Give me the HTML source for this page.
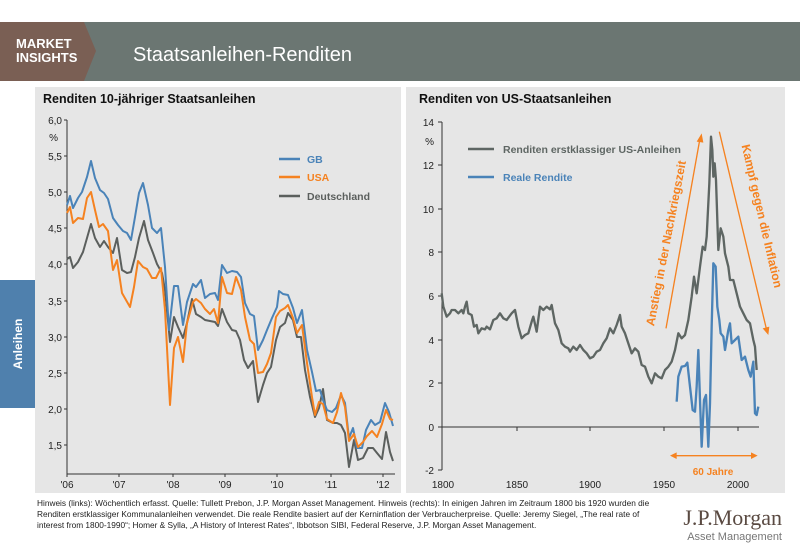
<!DOCTYPE html>
<html><head><meta charset="utf-8"><style>
body{margin:0;width:800px;height:554px;background:#fff;font-family:"Liberation Sans",sans-serif;overflow:hidden;position:relative}
</style></head><body>
<svg width="800" height="554" xmlns="http://www.w3.org/2000/svg" style="position:absolute;left:0;top:0" font-family="Liberation Sans, sans-serif">
<rect x="0" y="22" width="800" height="59" fill="#6b7672"/>
<polygon points="0,22 84,22 96,51 84,81 0,81" fill="#7a5f54"/>
<text x="16" y="48" fill="#fff" font-size="13" font-weight="bold">MARKET</text>
<text x="16" y="62" fill="#fff" font-size="13" font-weight="bold">INSIGHTS</text>
<text x="133" y="61" fill="#fff" font-size="20">Staatsanleihen-Renditen</text>
<rect x="35" y="87" width="366" height="406" fill="#e6e6e6"/>
<rect x="406" y="87" width="379" height="406" fill="#e6e6e6"/>
<rect x="0" y="280" width="35" height="128" fill="#4f80ad"/>
<text transform="translate(22,344) rotate(-90)" fill="#fff" font-size="12" font-weight="bold" text-anchor="middle">Anleihen</text>
<text x="43" y="103" font-size="12.5" font-weight="bold" fill="#111">Renditen 10-jähriger Staatsanleihen</text>
<text x="419" y="103" font-size="12.5" font-weight="bold" fill="#111">Renditen von US-Staatsanleihen</text>
<!-- left axes -->
<g stroke="#333" stroke-width="1" fill="none">
<line x1="67" y1="120" x2="67" y2="474"/><line x1="67" y1="474" x2="395" y2="474"/>
<line x1="64" y1="120" x2="67" y2="120"/><line x1="64" y1="156" x2="67" y2="156"/><line x1="64" y1="192" x2="67" y2="192"/><line x1="64" y1="228" x2="67" y2="228"/><line x1="64" y1="264" x2="67" y2="264"/><line x1="64" y1="301" x2="67" y2="301"/><line x1="64" y1="337" x2="67" y2="337"/><line x1="64" y1="373" x2="67" y2="373"/><line x1="64" y1="409" x2="67" y2="409"/><line x1="64" y1="445" x2="67" y2="445"/>
<line x1="67" y1="474" x2="67" y2="477"/><line x1="119" y1="474" x2="119" y2="477"/><line x1="173" y1="474" x2="173" y2="477"/><line x1="225" y1="474" x2="225" y2="477"/><line x1="277" y1="474" x2="277" y2="477"/><line x1="331" y1="474" x2="331" y2="477"/><line x1="383" y1="474" x2="383" y2="477"/>
</g>
<g font-size="10" fill="#222" text-anchor="end">
<text x="62" y="124">6,0</text><text x="62" y="160">5,5</text><text x="62" y="196">5,0</text><text x="62" y="232">4,5</text><text x="62" y="268">4,0</text><text x="62" y="305">3,5</text><text x="62" y="341">3,0</text><text x="62" y="377">2,5</text><text x="62" y="413">2,0</text><text x="62" y="449">1,5</text>
<text x="58" y="141">%</text>
</g>
<g font-size="10" fill="#222" text-anchor="middle">
<text x="67" y="488">'06</text><text x="119" y="488">'07</text><text x="173" y="488">'08</text><text x="225" y="488">'09</text><text x="277" y="488">'10</text><text x="331" y="488">'11</text><text x="383" y="488">'12</text>
</g>
<g fill="none" stroke-width="2" stroke-linejoin="round">
<polyline stroke="#5b5f5d" points="67,259 70,257 73,268 78,262 83,252 87,238 91,224 95,238 100,247 104,241 108,247 113,253 117,238 122,270 127,273 131,272 135,257 139,238 144,221 148,240 153,253 157,264 162,273 165,290 170,342 174,317 178,327 183,338 187,323 192,299 196,314 201,317 205,320 210,321 215,322 218,326 222,309 227,322 232,330 236,331 240,340 244,360 248,368 253,361 258,402 263,385 267,373 271,367 276,340 280,327 285,323 288,313 293,320 297,337 301,337 305,370 310,397 315,417 319,408 323,389 327,420 333,423 337,423 341,425 345,433 349,467 354,440 358,460 363,458 368,448 373,448 377,453 382,459 386,432 390,452 393,461"/>
<polyline stroke="#4a83b8" points="67,205 70,196 73,208 78,198 82,192 87,177 91,161 95,178 100,190 104,193 108,199 113,218 118,225 123,231 127,233 131,240 135,217 139,193 143,183 148,205 152,228 157,233 161,228 165,267 169,330 174,286 178,286 183,325 187,302 193,284 196,287 201,280 205,298 210,294 215,293 218,300 222,265 227,273 232,271 237,272 241,277 245,303 250,314 254,316 258,350 263,340 267,330 272,318 277,307 279,291 283,294 288,295 293,308 297,323 302,310 307,350 312,372 316,391 320,390 323,400 327,410 332,412 336,408 341,395 345,403 349,438 353,428 357,448 362,448 366,430 371,420 375,425 380,422 385,403 389,412 393,426"/>
<polyline stroke="#f58220" points="67,213 70,207 73,223 78,218 83,219 87,198 91,192 95,210 99,227 103,224 108,231 113,270 117,260 122,293 126,300 130,307 134,287 138,261 143,267 147,269 152,278 156,278 161,268 165,310 170,405 174,348 178,337 183,362 187,323 193,302 196,299 201,303 205,309 210,314 214,309 218,323 222,277 227,293 232,294 236,277 241,290 245,317 250,340 254,344 258,373 263,372 267,364 271,353 276,317 280,311 285,308 288,305 293,318 297,333 302,325 307,363 312,397 315,415 319,402 323,404 327,419 333,423 337,412 341,393 345,407 349,441 354,434 358,447 363,442 367,436 372,431 377,437 382,424 386,410 390,419 393,420"/>
</g>
<g stroke-width="2.5">
<line x1="279" y1="159" x2="300" y2="159" stroke="#4a83b8"/>
<line x1="279" y1="177" x2="300" y2="177" stroke="#f58220"/>
<line x1="279" y1="196" x2="300" y2="196" stroke="#5b5f5d"/>
</g>
<g font-size="10.5" font-weight="bold">
<text x="307" y="163" fill="#4a83b8">GB</text>
<text x="307" y="181" fill="#f58220">USA</text>
<text x="307" y="200" fill="#5b5f5d">Deutschland</text>
</g>
<!-- right axes -->
<g stroke="#333" stroke-width="1" fill="none">
<line x1="442" y1="122" x2="442" y2="470"/><line x1="442" y1="427" x2="759" y2="427"/>
<line x1="438" y1="122" x2="442" y2="122"/><line x1="438" y1="165" x2="442" y2="165"/><line x1="438" y1="209" x2="442" y2="209"/><line x1="438" y1="252" x2="442" y2="252"/><line x1="438" y1="296" x2="442" y2="296"/><line x1="438" y1="340" x2="442" y2="340"/><line x1="438" y1="383" x2="442" y2="383"/><line x1="438" y1="427" x2="442" y2="427"/><line x1="438" y1="470" x2="442" y2="470"/>
<line x1="517" y1="427" x2="517" y2="431"/><line x1="590" y1="427" x2="590" y2="431"/><line x1="664" y1="427" x2="664" y2="431"/><line x1="738" y1="427" x2="738" y2="431"/>
</g>
<g font-size="10" fill="#222" text-anchor="end">
<text x="434" y="126">14</text><text x="434" y="169">12</text><text x="434" y="213">10</text><text x="434" y="256">8</text><text x="434" y="300">6</text><text x="434" y="344">4</text><text x="434" y="387">2</text><text x="434" y="431">0</text><text x="434" y="474">-2</text>
<text x="434" y="145">%</text>
</g>
<g font-size="10" fill="#222" text-anchor="middle">
<text x="443" y="488">1800</text><text x="517" y="488">1850</text><text x="590" y="488">1900</text><text x="664" y="488">1950</text><text x="738" y="488">2000</text>
</g>
<g transform="translate(400,80) scale(0.33333)" fill="none" stroke-width="7" stroke-linejoin="round">
<polyline stroke="#5e6663" points="125,640 130,680 140,710 150,700 155,690 165,690 175,700 185,690 190,700 195,680 200,665 205,700 215,705 222,740 230,735 235,760 245,745 255,748 260,740 270,748 280,720 290,715 300,700 310,715 320,720 335,700 345,690 355,740 365,775 375,765 385,760 395,725 400,710 410,755 420,680 430,690 440,680 450,688 455,675 465,730 475,750 485,790 495,800 505,805 510,815 520,800 530,810 540,795 550,810 560,820 570,835 580,830 590,815 600,810 610,790 620,775 630,745 640,760 650,735 660,705 665,740 675,760 685,790 695,820 705,805 715,815 725,855 735,860 745,890 755,910 765,880 775,890 785,895 795,870 805,860 815,845 825,810 835,760 845,775 855,765 865,720 875,650 882,590 890,640 900,560 908,500 915,510 920,470 928,310 933,170 937,210 940,290 944,250 948,300 955,510 962,445 970,470 975,520 985,560 990,600 1000,600 1010,640 1020,680 1030,700 1040,720 1050,730 1060,780 1065,800 1070,870"/>
<polyline stroke="#4a83b8" points="830,965 835,890 845,860 855,858 862,848 870,920 878,990 885,995 890,920 895,810 900,960 905,1100 912,960 918,945 925,1100 930,970 935,740 940,550 947,560 952,680 958,720 962,760 970,770 975,810 985,750 990,730 995,790 1005,780 1015,770 1025,840 1035,830 1045,870 1052,890 1060,845 1065,1000 1070,1005 1075,980"/>
<g stroke="#f58220" stroke-width="4">
<line x1="798" y1="745" x2="900" y2="175"/>
<line x1="958" y1="155" x2="1100" y2="750"/>
<line x1="820" y1="1127" x2="1062" y2="1127"/>
</g>
<g fill="#f58220">
<polygon points="905,160 890,185 910,188"/>
<polygon points="1105,765 1088,745 1108,740"/>
<polygon points="810,1127 830,1117 830,1137"/>
<polygon points="1073,1127 1053,1117 1053,1137"/>
</g>
</g>
<g stroke-width="2.5">
<line x1="468" y1="149" x2="494" y2="149" stroke="#5e6663"/>
<line x1="468" y1="177" x2="494" y2="177" stroke="#4a83b8"/>
</g>
<g font-size="10.5" font-weight="bold">
<text x="503" y="153" fill="#5e6663">Renditen erstklassiger US-Anleihen</text>
<text x="503" y="181" fill="#4a83b8">Reale Rendite</text>
</g>
<g font-size="12" font-weight="bold" fill="#f58220" text-anchor="middle">
<text transform="translate(670,244) rotate(-79)">Anstieg in der Nachkriegszeit</text>
<text transform="translate(758,217) rotate(77)">Kampf gegen die Inflation</text>
<text x="713" y="475" font-size="10">60 Jahre</text>
</g>
<g font-size="8.3" fill="#222">
<text x="37" y="506">Hinweis (links): Wöchentlich erfasst. Quelle: Tullett Prebon, J.P. Morgan Asset Management. Hinweis (rechts): In einigen Jahren im Zeitraum 1800 bis 1920 wurden die</text>
<text x="37" y="517">Renditen erstklassiger Kommunalanleihen verwendet. Die reale Rendite basiert auf der Kerninflation der Verbraucherpreise. Quelle: Jeremy Siegel, „The real rate of</text>
<text x="37" y="528">interest from 1800-1990“; Homer &amp; Sylla, „A History of Interest Rates“, Ibbotson SIBI, Federal Reserve, J.P. Morgan Asset Management.</text>
</g>
<text x="782" y="525" font-family="Liberation Serif, serif" font-size="22" fill="#5a4a42" text-anchor="end">J.P.Morgan</text>
<text x="782" y="540" font-size="11" fill="#777" text-anchor="end">Asset Management</text>
</svg>
</body></html>
